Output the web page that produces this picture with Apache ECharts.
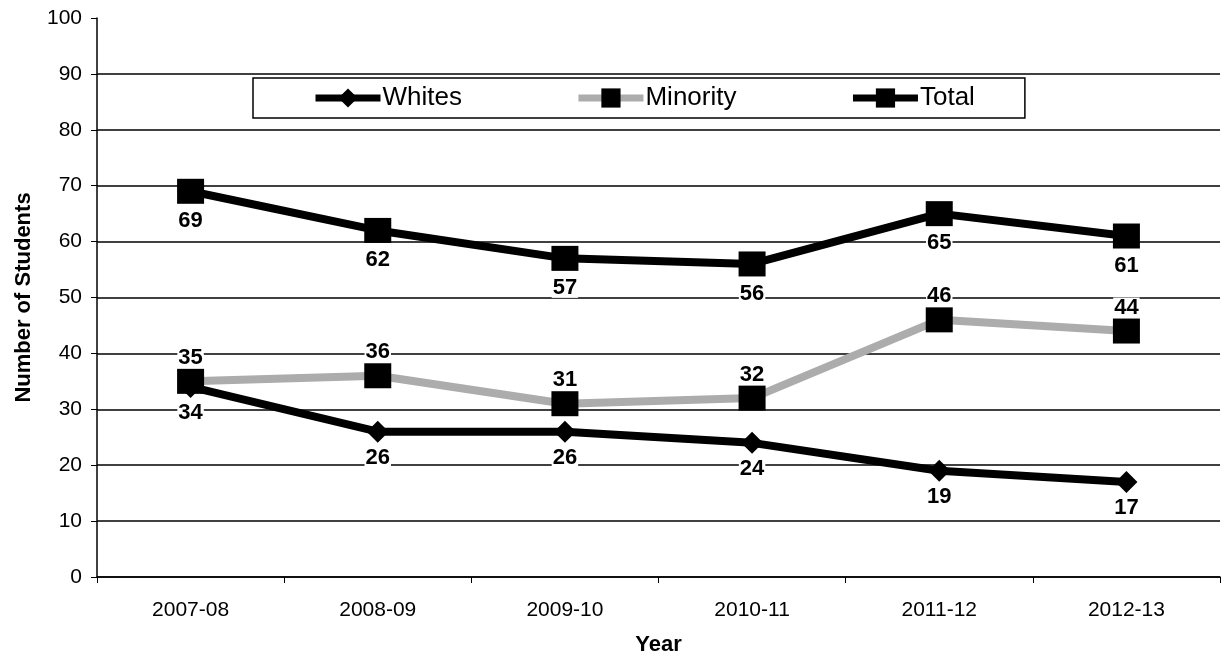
<!DOCTYPE html>
<html>
<head>
<meta charset="utf-8">
<script src="https://cdn.jsdelivr.net/npm/echarts@6/dist/echarts.min.js"></script>
<style>
  html, body { margin: 0; padding: 0; background: #fff; }
  #chart { width: 1223px; height: 661px; }
</style>
</head>
<body>
<div id="chart"></div>
<script>
// Student counts by school year
const years = ['2007-08', '2008-09', '2009-10', '2010-11', '2011-12', '2012-13'];
const whites = [34, 26, 26, 24, 19, 17];
const minority = [35, 36, 31, 32, 46, 44];
const total = [69, 62, 57, 56, 65, 61];
const yTicks = [0, 10, 20, 30, 40, 50, 60, 70, 80, 90, 100];

const FONT = 'Arial, "Liberation Sans", sans-serif';
// Value labels sit on a white box so the gridlines break around them
const labelStyle = {
  fontFamily: FONT, fontSize: 22, fontWeight: 'bold', color: '#000',
  lineHeight: 20, backgroundColor: '#fff', padding: [0, 1]
};

const chart = echarts.init(document.getElementById('chart'), null, { renderer: 'canvas' });
chart.setOption({
  animation: false,
  backgroundColor: '#fff',
  grid: { left: 97, right: 3, top: 18, bottom: 79 },
  legend: {
    left: 253, top: 78,
    padding: [7, 50, 7, 59],
    itemGap: 113,
    itemWidth: 65, itemHeight: 24,
    backgroundColor: '#fff',
    borderColor: '#000', borderWidth: 1.5,
    lineStyle: { width: 7 },
    textStyle: { fontFamily: FONT, fontSize: 26, color: '#000', padding: [0, 0, 0, -3] },
    data: ['Whites', 'Minority', 'Total']
  },
  xAxis: {
    type: 'category',
    data: years,
    boundaryGap: true,
    name: 'Year',
    nameLocation: 'middle',
    nameGap: 57,
    nameTextStyle: { fontFamily: FONT, fontSize: 22, fontWeight: 'bold', color: '#000' },
    axisLine: { lineStyle: { color: '#000', width: 1.5 } },
    axisTick: { show: true, length: 6, lineStyle: { color: '#000' } },
    axisLabel: { fontFamily: FONT, fontSize: 21, color: '#000', margin: 23 },
    splitLine: { show: false }
  },
  yAxis: {
    type: 'value',
    min: yTicks[0], max: yTicks[yTicks.length - 1], interval: 10,
    name: 'Number of Students',
    nameLocation: 'middle',
    nameGap: 62,
    nameTextStyle: { fontFamily: FONT, fontSize: 22, fontWeight: 'bold', color: '#000' },
    axisLine: { show: true, lineStyle: { color: '#000', width: 1.5 } },
    axisTick: { show: true, length: 6, lineStyle: { color: '#000' } },
    axisLabel: { fontFamily: FONT, fontSize: 21, color: '#000', margin: 15 },
    splitLine: { show: true, showMaxLine: false, lineStyle: { color: '#000', width: 1.5 } }
  },
  series: [
    {
      name: 'Whites', type: 'line', data: whites, z: 3,
      symbol: 'diamond', symbolSize: [22, 22],
      itemStyle: { color: '#000' },
      lineStyle: { color: '#000', width: 8 },
      label: { show: true, position: 'bottom', distance: 5, ...labelStyle }
    },
    {
      name: 'Minority', type: 'line', data: minority, z: 4,
      symbol: 'rect', symbolSize: [27, 25],
      itemStyle: { color: '#000' },
      lineStyle: { color: '#acacac', width: 8 },
      label: { show: true, position: 'top', distance: 1, ...labelStyle }
    },
    {
      name: 'Total', type: 'line', data: total, z: 5,
      symbol: 'rect', symbolSize: [27, 25],
      itemStyle: { color: '#000' },
      lineStyle: { color: '#000', width: 8 },
      label: { show: true, position: 'bottom', distance: 7, ...labelStyle }
    }
  ]
});
</script>
</body>
</html>
